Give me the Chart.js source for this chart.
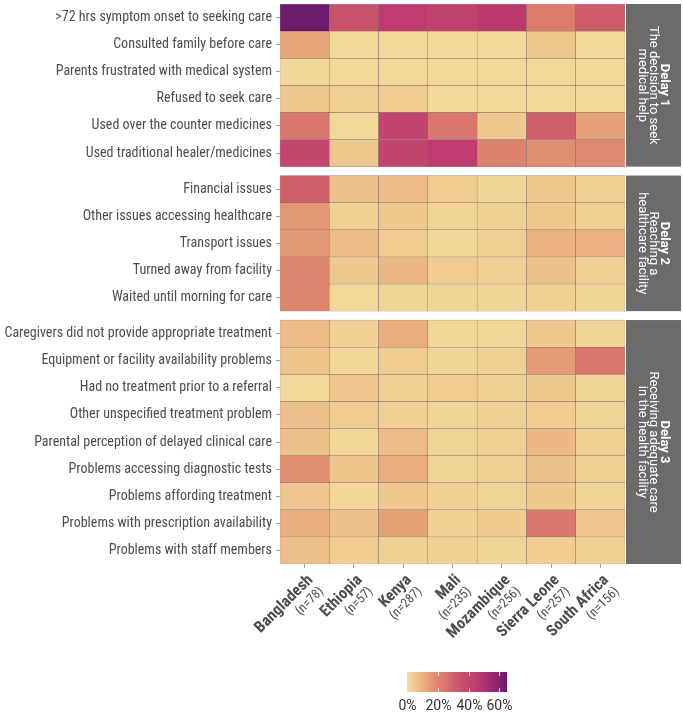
<!DOCTYPE html>
<html>
<head>
<meta charset="utf-8">
<script src="https://cdn.jsdelivr.net/npm/chart.js@4.4.1/dist/chart.umd.min.js"></script>
<style>
  html, body { margin: 0; padding: 0; background: #fff; }
</style>
</head>
<body>
<canvas id="heatmap" width="683" height="714"></canvas>
<script>
const countries = ['Bangladesh', 'Ethiopia', 'Kenya', 'Mali', 'Mozambique', 'Sierra Leone', 'South Africa']
const sampleSizes = [78, 57, 287, 235, 256, 257, 156]

const delayTitles = ['Delay 1', 'Delay 2', 'Delay 3']
const delaySubtitles = [
  ['The decision to seek', 'medical help'],
  ['Reaching a', 'healthcare facility'],
  ['Receiving adequate care', 'in the health facility'],
]

// % of deaths with each barrier, columns follow `countries`
const delay1Rows = [
  '>72 hrs symptom onset to seeking care',
  'Consulted family before care',
  'Parents frustrated with medical system',
  'Refused to seek care',
  'Used over the counter medicines',
  'Used traditional healer/medicines',
]
const delay1Values = [
  [65, 35, 45, 42, 46, 23, 32],
  [13, 1, 1, 1, 1, 5, 1],
  [1.5, 1, 1, 1, 1, 1, 1],
  [5, 3.5, 4, 1, 1, 1, 1],
  [24, 1, 41, 24, 5, 30, 14],
  [40, 5, 41, 45, 21, 18, 19],
]

const delay2Rows = [
  'Financial issues',
  'Other issues accessing healthcare',
  'Transport issues',
  'Turned away from facility',
  'Waited until morning for care',
]
const delay2Values = [
  [30, 7, 8, 4, 2, 5, 3],
  [16, 3, 5, 2.5, 3, 5, 3],
  [16, 8, 4, 1.5, 3, 10, 10],
  [20, 5, 9, 4, 3, 7, 3],
  [20, 1, 2, 2, 2, 3, 2],
]

const delay3Rows = [
  'Caregivers did not provide appropriate treatment',
  'Equipment or facility availability problems',
  'Had no treatment prior to a referral',
  'Other unspecified treatment problem',
  'Parental perception of delayed clinical care',
  'Problems accessing diagnostic tests',
  'Problems affording treatment',
  'Problems with prescription availability',
  'Problems with staff members',
]
const delay3Values = [
  [8, 3, 11, 1.5, 1.5, 5, 2.5],
  [6, 1.5, 4, 2, 3, 15, 24],
  [1, 5.5, 3, 4, 3, 5, 2.5],
  [7, 4, 3, 2, 3, 4, 2.5],
  [7, 1.5, 8, 2.5, 3, 8.5, 3],
  [18, 6, 11, 2.5, 3, 7, 3],
  [5.5, 1.5, 5, 3, 2.5, 5, 2.5],
  [11, 7, 14, 3, 4.5, 24, 5.5],
  [7, 4, 3, 3, 2.5, 4, 3],
]

const legendTicks = [0, 20, 40, 60]
const legendMax = 65

// colour ramp (value %, colour)
const ramp = [
  [0, '#f3dd9d'], [5, '#efc890'], [10, '#eab282'], [15, '#e49b76'],
  [20, '#de856f'], [25, '#d8746c'], [30, '#cf606a'], [35, '#c9536b'],
  [40, '#c4466d'], [45, '#bf3b70'], [50, '#b23272'], [55, '#9e2a72'],
  [60, '#85226f'], [65, '#6a1c6b'],
]

function hexToRgb(h) {
  return [1, 3, 5].map(i => parseInt(h.slice(i, i + 2), 16))
}

function colorFor(v) {
  v = Math.max(0, Math.min(legendMax, v))
  for (let i = 1; i < ramp.length; i++) {
    if (v <= ramp[i][0]) {
      const [v0, c0] = ramp[i - 1]
      const [v1, c1] = ramp[i]
      const t = (v - v0) / (v1 - v0)
      const a = hexToRgb(c0), b = hexToRgb(c1)
      const c = a.map((x, k) => Math.round(x + (b[k] - x) * t))
      return `rgb(${c[0]},${c[1]},${c[2]})`
    }
  }
  return ramp[ramp.length - 1][1]
}

const gap = 0.33
const facets = []
let offset = 0
;[[delay1Rows, delay1Values], [delay2Rows, delay2Values], [delay3Rows, delay3Values]].forEach(([rows, values], i) => {
  facets.push({ title: delayTitles[i], sub: delaySubtitles[i], rows, values, start: offset })
  offset += rows.length + gap
})
const yMax = offset - gap

const rowLabels = []
const rowCenters = []
const datasets = []
facets.forEach(f => {
  f.rows.forEach((label, r) => {
    const start = f.start + r
    rowLabels.push(label)
    rowCenters.push(start + 0.5)
    datasets.push({
      label: label,
      data: f.values[r].map(() => [start, start + 1]),
      backgroundColor: f.values[r].map(colorFor),
      borderColor: 'rgba(70, 45, 45, 0.55)',
      borderWidth: 0.5,
      borderSkipped: false,
      barPercentage: 1,
      categoryPercentage: 1,
      grouped: false,
    })
  })
})

const narrowFont = "'Roboto Condensed', 'Liberation Sans Narrow', 'DejaVu Sans Condensed', Roboto, sans-serif"
const textColor = '#4d4d4d'

const facetStrips = {
  id: 'facetStrips',
  afterDraw(chart) {
    const { ctx, chartArea, scales: { y } } = chart
    ctx.save()
    facets.forEach(f => {
      const top = y.getPixelForValue(f.start)
      const bottom = y.getPixelForValue(f.start + f.rows.length)
      const left = chartArea.right + 1
      const width = 55
      ctx.fillStyle = '#6b6b6b'
      ctx.fillRect(left, top, width, bottom - top)
      ctx.save()
      ctx.translate(left + width / 2, (top + bottom) / 2)
      ctx.rotate(Math.PI / 2)
      ctx.textAlign = 'center'
      ctx.textBaseline = 'middle'
      ctx.fillStyle = '#ffffff'
      const lines = [f.title].concat(f.sub)
      const lh = 11
      lines.forEach((t, i) => {
        ctx.font = (i === 0 ? 'bold ' : '') + '13px Roboto'
        ctx.fillText(t, 0, (i - (lines.length - 1) / 2) * lh)
      })
      ctx.restore()
    })

    // colour bar
    const bx = 407, bw = 100, by = 672, bh = 20
    const grad = ctx.createLinearGradient(bx, 0, bx + bw, 0)
    ramp.forEach(([v, c]) => grad.addColorStop(v / legendMax, c))
    ctx.fillStyle = grad
    ctx.fillRect(bx, by, bw, bh)
    ctx.strokeStyle = 'rgba(255,255,255,0.8)'
    ctx.lineWidth = 1
    ctx.fillStyle = '#333'
    ctx.font = '14px Roboto'
    ctx.textAlign = 'center'
    ctx.textBaseline = 'middle'
    legendTicks.forEach(v => {
      const px = Math.round(bx + v / legendMax * bw) + 0.5
      if (v > 0) {
        ctx.beginPath()
        ctx.moveTo(px, by); ctx.lineTo(px, by + 4)
        ctx.moveTo(px, by + bh - 4); ctx.lineTo(px, by + bh)
        ctx.stroke()
      }
      ctx.fillText(v + '%', px, 706)
    })
    ctx.restore()
  }
}

const config = {
  type: 'bar',
  data: { labels: countries, datasets: datasets },
  options: {
    responsive: false,
    animation: false,
    layout: { padding: { top: 4, right: 58, left: 0, bottom: 0 } },
    plugins: { legend: { display: false }, tooltip: { enabled: false } },
    scales: {
      x: {
        type: 'category',
        offset: true,
        grid: { drawOnChartArea: false, tickLength: 4, color: '#a0a0a0', offset: false },
        border: { display: false },
        ticks: {
          maxRotation: 45, minRotation: 45, autoSkip: false, padding: 3, labelOffset: 6,
          color: textColor, font: { family: narrowFont, size: 16, weight: 'bold' },
        },
        afterFit(s) { s.height = 150; s.paddingLeft = 0; s.paddingRight = 0 },
      },
      xn: {
        type: 'category',
        labels: sampleSizes.map(n => '(n=' + n + ')'),
        position: { y: yMax },
        offset: true,
        grid: { display: false, tickLength: 0 },
        border: { display: false },
        ticks: {
          maxRotation: 45, minRotation: 45, autoSkip: false, padding: 20, labelOffset: 17,
          color: textColor, font: { family: narrowFont, size: 13 },
        },
        afterFit(s) { s.paddingLeft = 0; s.paddingRight = 0 },
      },
      y: {
        type: 'linear',
        reverse: true,
        min: 0,
        max: yMax,
        grid: { drawOnChartArea: false, tickLength: 4, color: '#a0a0a0' },
        border: { display: false },
        afterBuildTicks(s) { s.ticks = rowCenters.map(v => ({ value: v })) },
        ticks: {
          autoSkip: false, padding: 4,
          color: textColor, font: { family: narrowFont, size: 14 },
          callback: (v, i) => rowLabels[i],
        },
        afterFit(s) { s.width = 280; s.paddingTop = 0; s.paddingBottom = 0 },
      },
    },
  },
  plugins: [facetStrips],
}

const heatmapChart = new Chart(document.getElementById('heatmap'), config)
</script>
</body>
</html>
